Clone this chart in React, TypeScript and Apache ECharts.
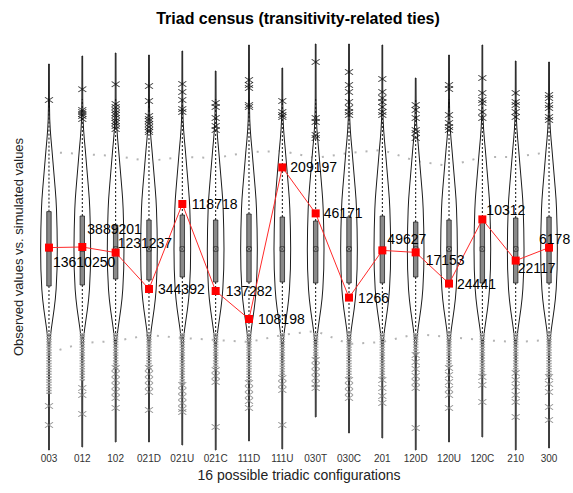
import React, { useEffect, useRef } from "react";
import * as echarts from "echarts";

// ---------- data (standardised per configuration; observed counts as labels) ----------
const categories = ["003", "012", "102", "021D", "021U", "021C", "111D", "111U", "030T", "030C", "201", "120D", "120U", "120C", "210", "300"];
const observedLabels = ["13610250", "3889201", "1231237", "344392", "118718", "137282", "108198", "209197", "46171", "1266", "49627", "17153", "24441", "10312", "22117", "6178"];
const observedZ = [0.07, 0.1, -0.18, -2.0, 2.25, -2.1, -3.5, 4.08, 1.78, -2.43, -0.07, -0.17, -1.73, 1.48, -0.58, 0.07];

const simMedian = [0, 0, 0, 0, 0, 0, 0, 0, 0, 0, 0, 0, 0, 0, 0, 0];
const simQ3 = [1.87, 1.65, 1.2, 1.45, 1.7, 1.45, 1.75, 1.6, 1.4, 1.6, 1.65, 1.35, 1.45, 1.6, 1.55, 1.6];
const simQ1 = [-1.85, -1.8, -1.5, -1.55, -1.4, -1.65, -1.65, -1.65, -1.7, -1.7, -1.7, -1.4, -1.7, -1.7, -1.7, -1.7];
const simMax = [9.25, 9.65, 9.8, 9.7, 9.9, 8.9, 10.2, 9.05, 10.25, 10.25, 10.2, 8.55, 9.7, 10.2, 9.4, 9.35];
const simMin = [-10.05, -9.9, -9.65, -9.65, -9.8, -10.05, -9.6, -10.0, -8.4, -9.2, -9.45, -10.05, -9.65, -9.4, -10.05, -9.95];

const band95 = [4.85, 4.75, 4.65, 4.4, 4.6, 4.55, 4.85, 4.9, 4.55, 4.8, 4.95, 4.4, 4.15, 4.6, 4.6, 4.85];
const band05 = [-5.2, -4.7, -4.6, -4.3, -4.45, -4.55, -4.65, -4.3, -4.1, -4.75, -4.65, -4.25, -4.4, -4.55, -4.65, -4.55];

const upperOutliers = [
  [7.45],
  [7.99, 6.95, 6.85, 6.75, 6.65, 6.5],
  [8.24, 7.25, 7.1, 6.95, 6.8, 6.7, 6.55, 6.4, 6.3, 6.15, 6.0],
  [8.15, 7.4, 6.65, 6.5, 6.4, 6.25, 6.1, 5.95, 5.85],
  [8.25, 7.85, 7.45, 7.0, 6.85],
  [7.3, 7.1, 6.55, 6.15, 5.95],
  [8.45, 8.2, 8.05, 7.2, 7.1],
  [7.4, 6.85, 6.7, 6.6],
  [9.35, 6.55, 6.35, 5.7, 5.55],
  [8.85, 8.2, 7.85, 7.35, 7.05, 6.85, 6.7],
  [8.5, 7.85, 7.55, 7.35, 7.1, 6.85, 6.7],
  [7.2, 6.95, 6.55, 5.95, 5.8, 5.55],
  [8.2, 8.0, 6.7, 6.3, 6.1, 5.95],
  [8.55, 7.8, 7.45, 7.3, 6.85, 6.55],
  [7.8, 7.35, 7.2, 6.85, 6.6],
  [7.7, 7.55, 7.2, 7.05, 6.6, 6.45],
];
const lowerOutliers = [
  [-7.85, -8.8],
  [-6.95, -7.3, -8.25],
  [-5.95, -6.25, -6.55, -6.85, -7.15, -7.45, -7.95],
  [-5.95, -6.25, -6.55, -6.85, -7.15, -8.05],
  [-6.8, -7.1, -7.4, -7.7, -8.0, -8.15],
  [-6.05, -6.35, -6.65, -8.9],
  [-6.7, -7.0, -7.3, -7.6, -7.95],
  [-6.45, -6.75, -7.05, -8.8],
  [-5.55, -5.85, -6.15, -6.45, -6.75, -6.95],
  [-6.55, -6.85, -7.15, -7.45],
  [-6.55, -6.95, -7.35, -7.7],
  [-5.3, -5.65, -6.0, -6.35, -6.65, -6.95, -8.95],
  [-5.95, -6.3, -6.65, -7.0, -7.3, -7.95],
  [-6.4, -6.8, -7.65],
  [-6.2, -6.55, -6.9, -7.3, -7.65, -8.4],
  [-6.4, -6.75, -7.15, -7.9, -8.55],
];
// lower end of the dense cloud of simulated values below each violin
const lowerCloudEnd = [-7.3, -6.6, -6.0, -6.0, -6.8, -6.0, -6.6, -6.4, -5.5, -6.5, -6.5, -5.3, -5.9, -6.3, -6.2, -6.4];

// shared violin density profile: [offset from median, relative half-width]
const violinUpper = [[7.5, 0.05], [6.5, 0.09], [6, 0.15], [5.5, 0.24], [5, 0.35], [4, 0.55], [3, 0.75], [2.5, 0.84], [2, 0.9], [1, 0.97], [0, 1]];
const violinLower = [[-1, 0.97], [-2, 0.86], [-2.5, 0.76], [-3, 0.62], [-3.5, 0.45], [-4, 0.28], [-4.5, 0.14], [-5, 0.08], [-6, 0.05]];

// ---------- layout / style ----------
const labelOffsets = [
  [-4.5, 14], [-3.5, -18], [-6.5, -10], [0.5, 0], [1, 0], [1.5, 0], [0.5, 0], [-0.5, 0],
  [-0.5, 0], [0.5, 0], [-3.5, -11], [1.5, 8], [-0.5, 0], [-4.5, -9], [-6.5, 7], [-18.5, -9],
];
const FONT = "'Liberation Sans', Arial, Helvetica, sans-serif";
const X_SYMBOL = "path://M0,0L10,10M10,0L0,10";

export default function App() {
  const ref = useRef<HTMLDivElement>(null);

  useEffect(() => {
    if (!ref.current) return;
    const chart = echarts.init(ref.current, null, { renderer: "svg" });

    const renderViolin = (params: any, api: any) => {
      const i = api.value(0) as number;
      const bw = api.size([1, 0])[0];
      const W = bw * 0.25;
      const cx = api.coord([i, 0])[0];
      const Y = (z: number) => api.coord([i, z])[1];
      const med = simMedian[i];
      const tail = 0.04;

      const right: number[][] = [];
      right.push([cx + W * tail, Y(simMax[i])]);
      for (const [dz, f] of violinUpper) right.push([cx + W * f, Y(med + dz)]);
      for (const [dz, f] of violinLower) right.push([cx + W * f, Y(med + dz)]);
      right.push([cx + W * tail, Y(simMin[i])]);
      const left = right.slice().reverse().map(([x, y]) => [2 * cx - x, y]);

      const boxHalf = 2.2;
      const yq3 = Y(simQ3[i]);
      const yq1 = Y(simQ1[i]);
      const ym = Y(med);
      const cloudTop = Y(med - 4.2);
      const cloudBot = Y(lowerCloudEnd[i]);

      return {
        type: "group",
        children: [
          {
            type: "polygon",
            shape: { points: right.concat(left) },
            style: { fill: "#ffffff", stroke: "#1a1a1a", lineWidth: 1 },
          },
          {
            type: "line",
            shape: { x1: cx, y1: yq3, x2: cx, y2: Y(med + 7.5) },
            style: { stroke: "#111", lineWidth: 1, lineDash: [2, 2] },
          },
          {
            type: "line",
            shape: { x1: cx, y1: yq1, x2: cx, y2: Y(med - 4.8) },
            style: { stroke: "#111", lineWidth: 1, lineDash: [2, 2] },
          },
          {
            type: "line",
            shape: { x1: cx, y1: Y(med - 4.8), x2: cx, y2: Y(simMin[i]) },
            style: { stroke: "#444", lineWidth: 1.2 },
          },
          {
            type: "line",
            shape: { x1: cx, y1: cloudTop, x2: cx, y2: cloudBot },
            style: { stroke: "#a8a8a8", lineWidth: 5.5, lineDash: [1.5, 1.2] },
          },
          {
            type: "line",
            shape: { x1: cx, y1: cloudTop, x2: cx, y2: cloudBot },
            style: { stroke: "#6a6a6a", lineWidth: 2.5, lineDash: [1, 2.2], lineDashOffset: 1 },
          },
          {
            type: "rect",
            shape: { x: cx - boxHalf, y: yq3, width: boxHalf * 2, height: yq1 - yq3 },
            style: { fill: "#8a8a8a", stroke: "#222", lineWidth: 0.8 },
          },
          {
            type: "rect",
            shape: { x: cx - 2.2, y: ym - 2.2, width: 4.4, height: 4.4 },
            style: { fill: "#b0b0b0", stroke: "#222", lineWidth: 0.8 },
          },
          {
            type: "line",
            shape: { x1: cx - 2, y1: ym - 2, x2: cx + 2, y2: ym + 2 },
            style: { stroke: "#333", lineWidth: 0.7 },
          },
          {
            type: "line",
            shape: { x1: cx + 2, y1: ym - 2, x2: cx - 2, y2: ym + 2 },
            style: { stroke: "#333", lineWidth: 0.7 },
          },
        ],
      };
    };

    const upperPts: number[][] = [];
    upperOutliers.forEach((arr, i) => arr.forEach((v) => upperPts.push([i, v])));
    const lowerPts: number[][] = [];
    lowerOutliers.forEach((arr, i) => arr.forEach((v) => lowerPts.push([i, v])));

    chart.setOption({
      animation: false,
      backgroundColor: "#ffffff",
      textStyle: { fontFamily: FONT },
      grid: { left: 32.3, right: 7.3, top: 43, bottom: 42, containLabel: false, outerBoundsMode: "none" },
      graphic: [
        {
          type: "text",
          x: 298,
          y: 18,
          style: {
            text: "Triad census (transitivity-related ties)",
            fontSize: 16,
            fontWeight: "bold",
            fontFamily: FONT,
            fill: "#000",
            align: "center",
            verticalAlign: "middle",
            textAlign: "center",
            textVerticalAlign: "middle",
          },
        },
      ],
      xAxis: {
        type: "category",
        data: categories,
        boundaryGap: true,
        axisLine: { show: false },
        axisTick: { show: false },
        splitLine: { show: false },
        axisLabel: { interval: 0, fontSize: 10, color: "#333", margin: 2, fontFamily: FONT },
        name: "16 possible triadic configurations",
        nameLocation: "middle",
        nameGap: 12,
        nameTextStyle: { fontSize: 14, color: "#222", fontFamily: FONT },
      },
      yAxis: {
        type: "value",
        min: -10.1,
        max: 10.3,
        axisLine: { show: false },
        axisTick: { show: false },
        splitLine: { show: false },
        axisLabel: { show: false },
        name: "Observed values vs. simulated values",
        nameLocation: "middle",
        nameGap: 7,
        nameTextStyle: { fontSize: 13, color: "#222", fontFamily: FONT },
      },
      series: [
        {
          type: "line",
          data: band95,
          symbol: "none",
          z: 1,
          lineStyle: { color: "#b4b4b4", width: 2, type: [2, 9] },
          silent: true,
        },
        {
          type: "line",
          data: band05,
          symbol: "none",
          z: 1,
          lineStyle: { color: "#b4b4b4", width: 2, type: [2, 9] },
          silent: true,
        },
        {
          type: "custom",
          renderItem: renderViolin,
          data: categories.map((_, i) => [i, simMedian[i]]),
          encode: { x: 0, y: 1 },
          z: 2,
          silent: true,
        },
        {
          type: "scatter",
          data: upperPts,
          symbol: X_SYMBOL,
          symbolSize: [8, 5.5],
          z: 3,
          itemStyle: { color: "none", borderColor: "#111", borderWidth: 1 },
          silent: true,
        },
        {
          type: "scatter",
          data: lowerPts,
          symbol: X_SYMBOL,
          symbolSize: [8, 5.5],
          z: 3,
          itemStyle: { color: "none", borderColor: "#777", borderWidth: 1 },
          silent: true,
        },
        {
          type: "line",
          z: 5,
          data: observedZ.map((v, i) => ({
            value: v,
            label: { formatter: observedLabels[i], offset: labelOffsets[i] },
          })),
          symbol: "rect",
          symbolSize: 8,
          itemStyle: { color: "#ff0000" },
          lineStyle: { color: "#ff2a2a", width: 1 },
          label: {
            show: true,
            position: "right",
            distance: 4.5,
            fontSize: 14,
            color: "#000",
            fontFamily: FONT,
          },
          silent: true,
        },
      ],
    });

    return () => chart.dispose();
  }, []);

  return (
    <div
      ref={ref}
      style={{ position: "fixed", left: 0, top: 0, width: 573, height: 493, background: "#fff" }}
    />
  );
}
